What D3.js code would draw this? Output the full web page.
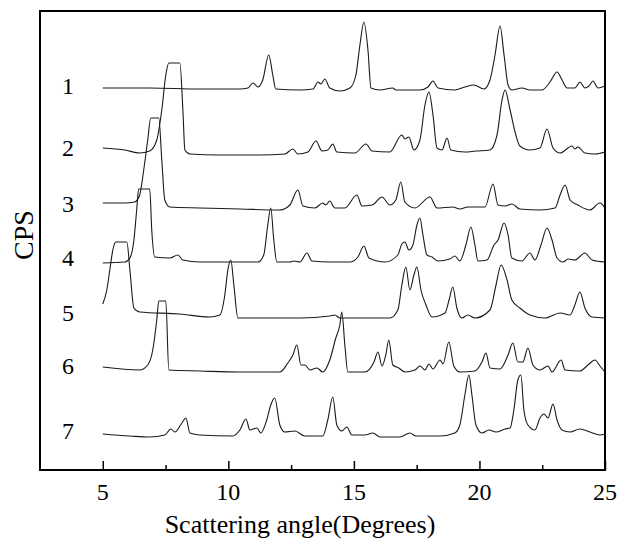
<!DOCTYPE html>
<html>
<head>
<meta charset="utf-8">
<script src="https://cdn.jsdelivr.net/npm/d3@7"></script>
<style>
  body { margin: 0; background: #fff; }
  svg { display: block; font-family: "Liberation Serif", "Times New Roman", serif; }
</style>
</head>
<body>
<svg width="620" height="542"></svg>
<script>
// patterns: [angle, counts above own baseline]
var trace1 = [[5.0,2],[6.87,2],[8.86,1],[10.46,1],[10.78,2],[10.98,7],[11.18,3],[11.37,10],[11.61,35],[11.77,15],[11.89,1],[12.85,0],[13.37,1],[13.57,8],[13.69,6],[13.84,11],[14.04,2],[14.44,-1],[14.84,2],[15.08,15],[15.24,45],[15.4,68],[15.56,40],[15.68,2],[16.04,0],[16.55,2],[16.67,0],[17.63,0],[17.95,3],[18.15,9],[18.35,2],[19.02,0],[19.42,3],[19.78,5],[20.18,1],[20.42,10],[20.62,35],[20.82,64],[20.98,35],[21.14,5],[21.29,0],[21.69,2],[22.01,0],[22.49,0],[22.81,8],[23.09,18],[23.29,10],[23.49,2],[23.8,2],[24.0,8],[24.2,2],[24.36,4],[24.52,9],[24.72,2],[25.0,4]]
var trace2 = [[5.0,4],[5.88,2],[6.47,-1],[6.87,1],[7.15,12],[7.35,42],[7.51,77],[7.63,89],[8.07,89],[8.19,42],[8.27,2],[8.47,-2],[9.66,-3],[11.25,-3],[12.25,-2],[12.57,3],[12.77,-2],[13.17,0],[13.49,11],[13.73,1],[13.96,2],[14.16,8],[14.32,0],[15.04,-1],[15.48,8],[15.72,1],[16.43,0],[16.91,17],[17.03,13],[17.19,15],[17.39,2],[17.63,12],[17.83,47],[17.99,60],[18.15,37],[18.31,4],[18.51,2],[18.71,14],[18.86,2],[19.42,0],[19.86,1],[20.42,2],[20.7,17],[20.9,52],[21.02,62],[21.22,42],[21.45,17],[21.61,6],[22.01,2],[22.41,4],[22.69,23],[22.93,4],[23.21,-1],[23.69,6],[23.8,3],[23.92,5],[24.2,-1],[24.6,-2],[25.0,0]]
var trace3 = [[5.0,5],[5.88,5],[6.27,6],[6.47,13],[6.63,38],[6.79,68],[6.91,90],[7.23,90],[7.35,48],[7.47,8],[7.67,1],[8.86,0],[10.46,-1],[12.05,-2],[12.45,3],[12.77,18],[12.97,2],[13.45,0],[13.76,5],[13.88,3],[14.04,7],[14.24,0],[14.64,0],[15.12,13],[15.32,2],[15.72,3],[16.12,11],[16.43,3],[16.67,8],[16.87,26],[17.03,6],[17.43,0],[18.03,11],[18.31,0],[18.94,1],[19.22,-1],[19.54,1],[20.22,1],[20.54,24],[20.74,3],[21.02,2],[21.29,4],[21.61,-1],[22.41,-2],[23.01,0],[23.21,13],[23.41,23],[23.61,8],[23.92,3],[24.4,-2],[24.8,5],[25.0,0]]
var trace4 = [[5.0,-1],[5.88,0],[6.08,4],[6.24,22],[6.35,52],[6.43,73],[6.87,73],[6.95,32],[7.07,5],[7.67,4],[7.99,7],[8.19,2],[8.86,0],[10.06,0],[11.18,0],[11.41,7],[11.57,37],[11.69,54],[11.81,22],[11.93,0],[12.45,0],[12.61,1],[12.85,0],[13.13,9],[13.33,1],[14.04,0],[14.84,0],[15.16,5],[15.4,16],[15.6,4],[16.24,0],[16.75,7],[16.91,18],[17.03,20],[17.19,12],[17.35,17],[17.51,37],[17.63,44],[17.75,27],[17.91,7],[18.11,5],[18.35,1],[18.82,3],[19.02,6],[19.22,1],[19.46,17],[19.66,35],[19.82,17],[19.94,1],[20.3,2],[20.58,17],[20.74,22],[20.98,39],[21.14,27],[21.29,4],[21.69,1],[22.01,9],[22.21,2],[22.45,17],[22.69,34],[22.89,22],[23.09,4],[23.33,0],[23.53,3],[23.8,2],[24.2,9],[24.48,2],[25.0,0]]
var trace5 = [[5.0,13],[5.16,27],[5.28,47],[5.4,67],[5.52,75],[5.96,75],[6.08,47],[6.24,9],[6.47,5],[8.07,3],[9.26,0],[9.66,2],[9.86,22],[9.98,47],[10.1,57],[10.22,32],[10.38,-1],[11.25,-1],[12.85,-1],[14.04,1],[14.24,2],[14.44,-1],[15.24,-1],[16.43,-1],[16.75,7],[16.91,32],[17.07,50],[17.23,27],[17.39,42],[17.51,50],[17.67,27],[17.87,12],[18.11,0],[18.63,4],[18.79,17],[18.94,30],[19.1,9],[19.3,-1],[19.54,2],[19.82,-1],[20.42,7],[20.66,32],[20.86,52],[21.1,37],[21.29,17],[21.61,9],[22.01,2],[22.61,-1],[23.21,4],[23.61,2],[23.8,12],[24.0,25],[24.2,9],[24.48,0],[25.0,-1]]
var trace6 = [[5.0,3],[6.47,0],[6.79,5],[6.99,20],[7.15,50],[7.23,69],[7.51,69],[7.63,0],[8.86,-1],[10.46,-2],[12.05,-2],[12.37,7],[12.57,15],[12.73,25],[12.89,5],[13.05,5],[13.25,0],[13.53,2],[13.76,-2],[14.04,10],[14.28,32],[14.44,45],[14.52,58],[14.64,25],[14.76,-2],[15.44,-2],[15.8,8],[15.96,18],[16.12,4],[16.27,15],[16.39,30],[16.55,5],[16.79,2],[17.03,-2],[17.43,0],[17.63,4],[17.83,0],[17.99,6],[18.15,1],[18.43,10],[18.55,6],[18.78,28],[18.98,4],[19.22,-2],[19.82,-1],[20.1,8],[20.26,17],[20.42,2],[20.82,1],[21.14,15],[21.33,27],[21.53,8],[21.73,8],[21.93,22],[22.13,5],[22.41,0],[22.73,4],[22.89,-2],[23.25,10],[23.41,0],[24.0,-1],[24.32,5],[24.6,10],[24.8,4],[25.0,-2]]
var trace7 = [[5.0,1],[6.08,-1],[6.87,-2],[7.47,0],[7.71,6],[7.87,3],[8.15,12],[8.31,17],[8.47,2],[8.86,0],[10.18,-1],[10.46,5],[10.7,16],[10.86,5],[11.14,7],[11.29,2],[11.53,15],[11.69,30],[11.85,37],[12.05,10],[12.25,3],[12.65,4],[13.05,-1],[13.76,-1],[13.96,15],[14.16,38],[14.32,10],[14.52,4],[14.72,8],[14.92,0],[15.44,0],[15.76,2],[16.04,-2],[16.83,-2],[17.23,2],[17.47,-1],[18.43,-1],[19.02,2],[19.22,10],[19.42,40],[19.58,60],[19.7,40],[19.86,10],[20.1,2],[20.38,5],[20.66,3],[21.02,6],[21.22,7],[21.37,25],[21.53,55],[21.65,60],[21.77,25],[21.93,10],[22.21,5],[22.41,17],[22.57,21],[22.73,17],[22.93,31],[23.09,15],[23.29,5],[23.61,3],[24.0,6],[24.4,3],[24.8,0],[25.0,1]]

var traces = [trace1, trace2, trace3, trace4, trace5, trace6, trace7]
var traceNames = ['1', '2', '3', '4', '5', '6', '7']
var offsets = [380, 318, 262, 208, 153, 100, 35]   // stacking offset of each pattern
var majorTicks = [5, 10, 15, 20, 25]
var minorTicks = [7.5, 12.5, 17.5, 22.5]

var svg = d3.select('svg')
// note: "top" is taken by window.top, so plot edges get their own names
var plotL = 40, plotR = 605, plotT = 11, plotB = 470

var x = d3.scaleLinear().domain([2.5, 25]).range([plotL, plotR])
var y = d3.scaleLinear().domain([0, 459]).range([plotB, plotT])

var line = d3.line()
    .x(function(d) { return x(d[0]) })
    .y(function(d) { return y(d[1]) })
    .curve(d3.curveMonotoneX)

svg.selectAll('path.trace')
    .data(traces)
    .enter()
    .append('path')
    .attr('class', 'trace')
    .attr('fill', 'none')
    .attr('stroke', '#1a1a1a')
    .attr('stroke-width', 1.1)
    .attr('stroke-linejoin', 'round')
    .attr('d', function(data, i) {
        return line(data.map(function(p) { return [p[0], p[1] + offsets[i]] }))
    })

// frame
svg.append('rect')
    .attr('x', plotL).attr('y', plotT)
    .attr('width', plotR - plotL).attr('height', plotB - plotT)
    .attr('fill', 'none')
    .attr('stroke', '#000')
    .attr('stroke-width', 2)

// ticks point inward from the bottom
var xAxis = d3.axisTop(x).tickValues(majorTicks).tickSize(9).tickFormat('')
var xMinor = d3.axisTop(x).tickValues(minorTicks).tickSize(5).tickFormat('')
svg.append('g').attr('transform', 'translate(0,' + plotB + ')').call(xAxis)
svg.append('g').attr('transform', 'translate(0,' + plotB + ')').call(xMinor)
svg.selectAll('.domain').remove()
svg.selectAll('.tick line').attr('stroke', '#000').attr('stroke-width', 1.5)

svg.selectAll('text.xlab')
    .data(majorTicks)
    .enter()
    .append('text')
    .attr('class', 'xlab')
    .attr('x', function(d) { return x(d) })
    .attr('y', 500)
    .attr('text-anchor', 'middle')
    .attr('font-size', 24)
    .text(function(d) { return d })

svg.selectAll('text.tname')
    .data(traceNames)
    .enter()
    .append('text')
    .attr('class', 'tname')
    .attr('x', 68)
    .attr('y', function(d, i) { return y(offsets[i]) + 4 })
    .attr('text-anchor', 'middle')
    .attr('font-size', 24)
    .text(function(d) { return d })

svg.append('text')
    .attr('x', 300).attr('y', 533)
    .attr('text-anchor', 'middle')
    .attr('font-size', 26)
    .text('Scattering angle(Degrees)')

svg.append('text')
    .attr('transform', 'translate(33,235) rotate(-90)')
    .attr('text-anchor', 'middle')
    .attr('font-size', 28)
    .text('CPS')
</script>
</body>
</html>
